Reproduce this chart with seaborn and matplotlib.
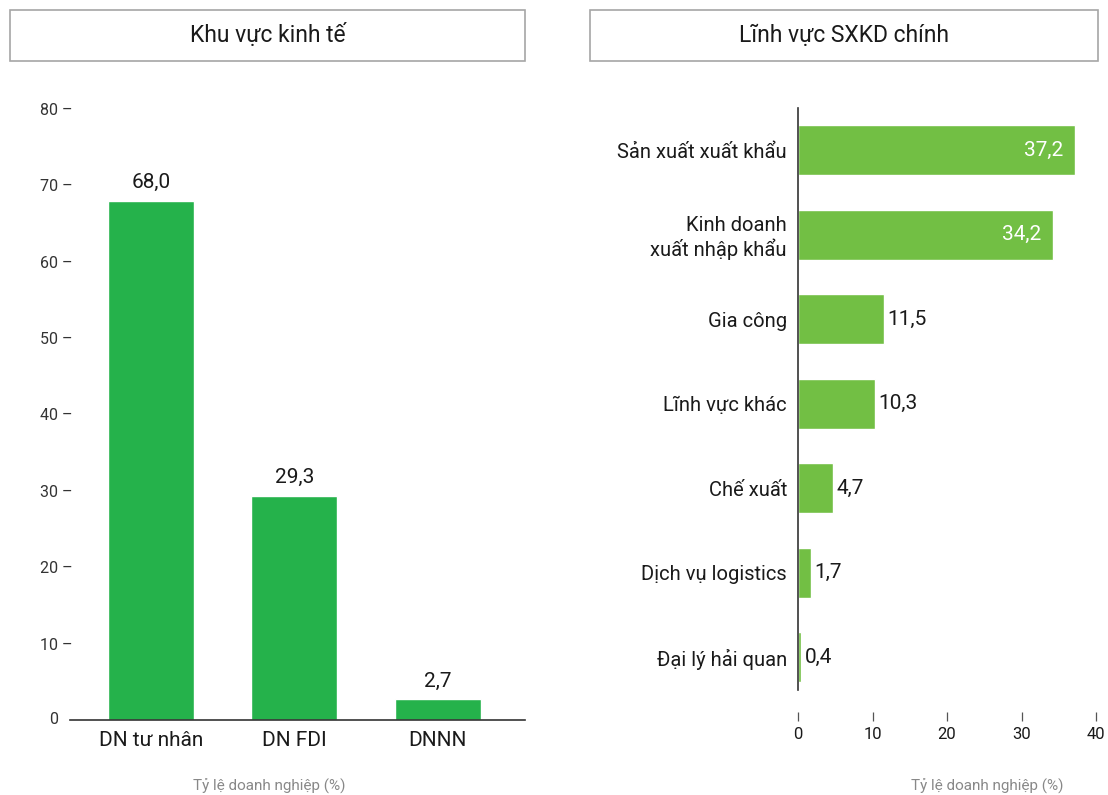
import matplotlib
matplotlib.use("Agg")
import matplotlib.pyplot as plt
from matplotlib.patches import Rectangle
import seaborn as sns

sns.set_theme(style="white")
plt.rcParams["font.family"] = ["Roboto", "DejaVu Sans"]

# Khu vực kinh tế
sector_labels = ["DN tư nhân", "DN FDI", "DNNN"]
sector_values = [68.0, 29.3, 2.7]
sector_yticks = [10, 20, 30, 40, 50, 60, 70, 80]

# Lĩnh vực SXKD chính
field_labels = ["Sản xuất xuất khẩu", "Kinh doanh\nxuất nhập khẩu", "Gia công",
                "Lĩnh vực khác", "Chế xuất", "Dịch vụ logistics", "Đại lý hải quan"]
field_values = [37.2, 34.2, 11.5, 10.3, 4.7, 1.7, 0.4]
field_xticks = [0, 10, 20, 30, 40]

title_left = "Khu vực kinh tế"
title_right = "Lĩnh vực SXKD chính"
axis_caption = "Tỷ lệ doanh nghiệp (%)"

GREEN_DARK = "#25b24b"
GREEN_LIGHT = "#72bf44"
TEXT = "#1a1a1a"
GREY = "#888888"

W, H = 1108, 795
fig = plt.figure(figsize=(W / 100, H / 100), dpi=100)


def px_rect(x0, y0, x1, y1):
    return [x0 / W, 1 - y1 / H, (x1 - x0) / W, (y1 - y0) / H]


def fmt(v):
    return f"{v:.1f}".replace(".", ",")


# Title boxes
for (x0, x1, txt) in [(10, 525, title_left), (590, 1098, title_right)]:
    fig.patches.append(Rectangle((x0 / W, 1 - 61 / H), (x1 - x0) / W, 51 / H,
                                 transform=fig.transFigure, fill=False,
                                 edgecolor="#a6a6a6", linewidth=1.2))
    fig.text((x0 + x1) / 2 / W, 1 - 35.5 / H, txt, ha="center", va="center",
             fontsize=16.5, color=TEXT)

# ---- Left panel: vertical bars ----
ax1 = fig.add_axes(px_rect(70, 109, 525, 720))
sns.barplot(x=sector_labels, y=sector_values, color=GREEN_DARK, width=0.6,
            saturation=1, ax=ax1)
ax1.set_xlim(-0.565, 2.61)
ax1.set_ylim(0, 80)
for s in ["top", "right", "left"]:
    ax1.spines[s].set_visible(False)
ax1.spines["bottom"].set_color("#333333")
ax1.spines["bottom"].set_linewidth(1.2)
ax1.set_yticks(sector_yticks)
ax1.set_yticklabels([f"{t} –" for t in sector_yticks])
ax1.tick_params(axis="y", length=0, pad=-2, labelsize=11.5, labelcolor="#333333")
ax1.tick_params(axis="x", length=0, pad=8, labelsize=15, labelcolor=TEXT)
ax1.text(-0.645, 0, "0", ha="right", va="center", fontsize=11.5, color="#333333",
         clip_on=False)
for i, v in enumerate(sector_values):
    ax1.text(i, v + 1.7, fmt(v), ha="center", va="baseline", fontsize=15, color=TEXT)
ax1.set_xlabel("")
ax1.set_ylabel("")
fig.text(269 / W, 1 - 786 / H, axis_caption, ha="center", va="center",
         fontsize=11, color=GREY)

# ---- Right panel: horizontal bars ----
ax2 = fig.add_axes(px_rect(798, 108, 1096, 690))
sns.barplot(x=field_values, y=field_labels, orient="h", color=GREEN_LIGHT,
            width=0.59, saturation=1, ax=ax2)
ax2.set_xlim(0, 40)
ax2.set_ylim(6.39, -0.5)
for s in ["top", "right"]:
    ax2.spines[s].set_visible(False)
ax2.spines["left"].set_color("#333333")
ax2.spines["left"].set_linewidth(1.2)
ax2.spines["bottom"].set_visible(False)
ax2.spines["bottom"].set_position(("outward", 22 * 0.72))
ax2.set_xticks(field_xticks)
ax2.tick_params(axis="x", bottom=True, direction="out", length=6.5, width=0.9,
                color="#555555", pad=4, labelsize=12, labelcolor=TEXT)
ax2.tick_params(axis="y", length=0, pad=8, labelsize=14.5, labelcolor=TEXT)
for i, v in enumerate(field_values):
    if v > 20:
        ax2.text(v - 1.6, i, fmt(v), ha="right", va="center", fontsize=15,
                 color="white")
    else:
        ax2.text(v + 0.5, i, fmt(v), ha="left", va="center", fontsize=15,
                 color=TEXT)
ax2.set_xlabel("")
ax2.set_ylabel("")
fig.text(987 / W, 1 - 786 / H, axis_caption, ha="center", va="center",
         fontsize=11, color=GREY)

fig.savefig("out.png", dpi=100)
